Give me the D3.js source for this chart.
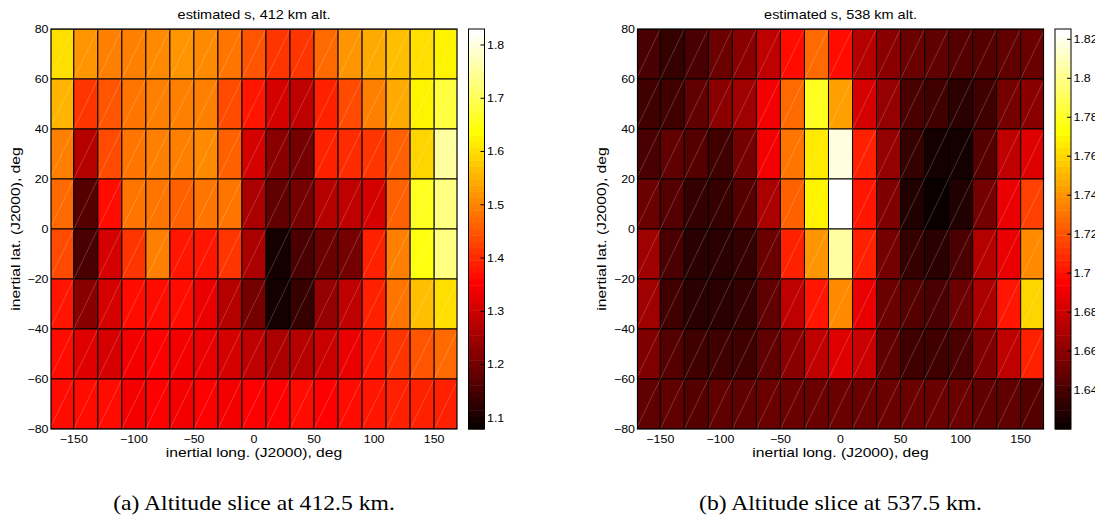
<!DOCTYPE html>
<html>
<head>
<meta charset="utf-8">
<script src="https://cdn.jsdelivr.net/npm/d3@7"></script>
<style>
  body { margin: 0; background: #fff; }
  svg { display: block; }
  text { font-family: "Liberation Sans", Arial, Helvetica, sans-serif; fill: #000; }
  .caption { font-family: "Liberation Serif", "Times New Roman", serif; }
</style>
</head>
<body>
<svg id="fig" width="1095" height="529"></svg>
<script>
// ---- data ---------------------------------------------------------------
// Longitude bin centres (deg), each bin 20 deg wide
const lonCenters = [-160, -140, -120, -100, -80, -60, -40, -20, 0, 20, 40, 60, 80, 100, 120, 140, 160];
// Latitude bin edges (deg), top to bottom
const latEdges = [80, 60, 40, 20, 0, -20, -40, -60, -80];

const xTicks = [-150, -100, -50, 0, 50, 100, 150];
const yTicks = [80, 60, 40, 20, 0, -20, -40, -60, -80];

// Estimated s, 412 km altitude slice (rows: lat bins top to bottom)
const s412 = [
  [1.598, 1.515, 1.493, 1.500, 1.508, 1.515, 1.508, 1.485, 1.448, 1.418, 1.418, 1.470, 1.515, 1.538, 1.564, 1.598, 1.628],
  [1.560, 1.418, 1.448, 1.485, 1.493, 1.500, 1.493, 1.440, 1.380, 1.313, 1.290, 1.388, 1.440, 1.493, 1.538, 1.620, 1.688],
  [1.493, 1.275, 1.440, 1.478, 1.493, 1.500, 1.508, 1.463, 1.313, 1.230, 1.204, 1.395, 1.403, 1.418, 1.463, 1.586, 1.748],
  [1.470, 1.170, 1.369, 1.485, 1.485, 1.463, 1.485, 1.478, 1.256, 1.178, 1.204, 1.275, 1.290, 1.313, 1.463, 1.665, 1.736],
  [1.440, 1.151, 1.313, 1.418, 1.493, 1.380, 1.380, 1.410, 1.256, 1.091, 1.151, 1.185, 1.204, 1.395, 1.493, 1.643, 1.725],
  [1.380, 1.223, 1.313, 1.369, 1.369, 1.361, 1.335, 1.275, 1.208, 1.091, 1.133, 1.238, 1.290, 1.395, 1.478, 1.564, 1.598],
  [1.369, 1.320, 1.313, 1.343, 1.350, 1.343, 1.335, 1.313, 1.279, 1.256, 1.268, 1.298, 1.335, 1.380, 1.418, 1.448, 1.470],
  [1.369, 1.361, 1.361, 1.343, 1.350, 1.343, 1.350, 1.343, 1.358, 1.350, 1.369, 1.350, 1.369, 1.380, 1.388, 1.395, 1.395]
];

// Estimated s, 538 km altitude slice
const s538 = [
  [1.642, 1.634, 1.642, 1.649, 1.659, 1.675, 1.697, 1.729, 1.697, 1.673, 1.661, 1.651, 1.647, 1.645, 1.645, 1.647, 1.649],
  [1.637, 1.639, 1.647, 1.659, 1.668, 1.692, 1.729, 1.780, 1.745, 1.684, 1.663, 1.642, 1.637, 1.632, 1.637, 1.654, 1.661],
  [1.642, 1.647, 1.645, 1.639, 1.654, 1.692, 1.731, 1.765, 1.816, 1.704, 1.663, 1.634, 1.625, 1.625, 1.645, 1.675, 1.686],
  [1.651, 1.645, 1.634, 1.634, 1.645, 1.671, 1.725, 1.770, 1.825, 1.702, 1.657, 1.627, 1.623, 1.627, 1.654, 1.688, 1.716],
  [1.668, 1.642, 1.632, 1.630, 1.634, 1.651, 1.706, 1.740, 1.805, 1.706, 1.654, 1.634, 1.630, 1.642, 1.673, 1.690, 1.737],
  [1.665, 1.639, 1.632, 1.630, 1.634, 1.647, 1.677, 1.702, 1.737, 1.690, 1.651, 1.645, 1.642, 1.651, 1.671, 1.702, 1.758],
  [1.657, 1.645, 1.639, 1.637, 1.639, 1.647, 1.661, 1.677, 1.686, 1.680, 1.647, 1.639, 1.637, 1.642, 1.657, 1.675, 1.704],
  [1.647, 1.647, 1.645, 1.647, 1.647, 1.649, 1.651, 1.649, 1.651, 1.649, 1.651, 1.651, 1.651, 1.649, 1.647, 1.647, 1.645]
];

const cbarDomain412 = [1.079, 1.83];
const cbarDomain538 = [1.62, 1.8253];
const cbarTicks412 = [1.1, 1.2, 1.3, 1.4, 1.5, 1.6, 1.7, 1.8];
const cbarTicks538 = [1.64, 1.66, 1.68, 1.7, 1.72, 1.74, 1.76, 1.78, 1.8, 1.82];

const titles = ["estimated s, 412 km alt.", "estimated s, 538 km alt."];
const captions = ["(a) Altitude slice at 412.5 km.", "(b) Altitude slice at 537.5 km."];
const xLabel = "inertial long. (J2000), deg";
const yLabel = "inertial lat. (J2000), deg";

// ---- drawing ------------------------------------------------------------
const svg = d3.select("#fig");
svg.append("rect").attr("width", 1095).attr("height", 529).attr("fill", "#fff");

const SX = 1.15; // horizontal stretch of the lettering
const lonDomain = [-169, 169];
const binHalf = 10;
const N_COLORS = 64;

// MATLAB-style "hot" colormap with 64 discrete levels
function hotLevel(k) { // k = 1..64
  const r = Math.min(1, k / 24);
  const g = Math.min(1, Math.max(0, (k - 24) / 24));
  const b = Math.min(1, Math.max(0, (k - 48) / 16));
  return d3.rgb(Math.round(r * 255), Math.round(g * 255), Math.round(b * 255)).formatHex();
}
function hotScale(domain) {
  const q = d3.scaleQuantize().domain(domain).range(d3.range(1, N_COLORS + 1));
  return v => hotLevel(q(Math.max(domain[0], Math.min(domain[1], v))));
}

function label(g, x, y, str, opts = {}) {
  const t = g.append("text")
    .attr("transform", `translate(${x},${y})` + (opts.rotate ? ` rotate(${opts.rotate})` : "") + ` scale(${opts.sx ?? SX},1)`)
    .attr("font-size", opts.size ?? 11)
    .attr("text-anchor", opts.anchor ?? "middle")
    .text(str);
  if (opts.cls) t.attr("class", opts.cls);
  if (opts.dy) t.attr("dy", opts.dy);
  return t;
}

const fmtMinus = v => String(v).replace("-", "\u2212");

function panel(idx, left, data, cDomain, cTicks) {
  const top = 29, W = 406, H = 400;
  const g = svg.append("g");
  const x = d3.scaleLinear().domain(lonDomain).range([left, left + W]);
  const y = d3.scaleLinear().domain([-80, 80]).range([top + H, top]);
  const color = hotScale(cDomain);

  const clipId = "clip" + idx;
  svg.append("clipPath").attr("id", clipId)
    .append("rect").attr("x", left).attr("y", top).attr("width", W).attr("height", H);

  const cells = [];
  data.forEach((row, r) => row.forEach((v, c) => cells.push({
    lon: lonCenters[c], latHi: latEdges[r], latLo: latEdges[r + 1], v
  })));

  const grid = g.append("g").attr("clip-path", `url(#${clipId})`);
  grid.selectAll("rect.cell").data(cells).join("rect")
    .attr("class", "cell")
    .attr("x", d => x(d.lon - binHalf))
    .attr("y", d => y(d.latHi))
    .attr("width", d => x(d.lon + binHalf) - x(d.lon - binHalf))
    .attr("height", d => y(d.latLo) - y(d.latHi))
    .attr("fill", d => color(d.v))
    .attr("stroke", "#000")
    .attr("stroke-width", 1);
  // faint seam along each cell's diagonal (quad split into two triangles)
  grid.selectAll("line.seam").data(cells).join("line")
    .attr("class", "seam")
    .attr("x1", d => x(d.lon - binHalf)).attr("y1", d => y(d.latLo))
    .attr("x2", d => x(d.lon + binHalf)).attr("y2", d => y(d.latHi))
    .attr("stroke", "#fff").attr("stroke-opacity", 0.32).attr("stroke-width", 0.6);

  g.append("rect").attr("x", left).attr("y", top).attr("width", W).attr("height", H)
    .attr("fill", "none").attr("stroke", "#000").attr("stroke-width", 1.2);

  // tick labels
  xTicks.forEach(t => label(g, x(t), 443, fmtMinus(t), { size: 10.8 }));
  yTicks.forEach(t => label(g, left - 2.5, y(t), fmtMinus(t), { size: 10.8, anchor: "end", dy: "0.36em" }));

  // title and axis labels
  label(g, left + W / 2, 19, titles[idx], { size: 12.6 });
  label(g, left + W / 2, 457, xLabel, { size: 13.6 });
  label(g, left - 31.5, top + H / 2, yLabel, { size: 13.6, rotate: -90 });

  // colour bar
  const cbX = left + 417.5, cbW = 16;
  const cy = d3.scaleLinear().domain(cDomain).range([top + H, top]);
  const levels = d3.range(N_COLORS);
  const step = (cDomain[1] - cDomain[0]) / N_COLORS;
  g.append("g").selectAll("rect").data(levels).join("rect")
    .attr("x", cbX).attr("width", cbW)
    .attr("y", k => cy(cDomain[0] + (k + 1) * step))
    .attr("height", k => cy(cDomain[0] + k * step) - cy(cDomain[0] + (k + 1) * step) + 0.5)
    .attr("fill", k => hotLevel(k + 1));
  g.append("rect").attr("x", cbX).attr("y", top).attr("width", cbW).attr("height", H)
    .attr("fill", "none").attr("stroke", "#000").attr("stroke-width", 1);
  cTicks.forEach(t => {
    g.append("line").attr("x1", cbX + cbW - 4).attr("x2", cbX + cbW)
      .attr("y1", cy(t)).attr("y2", cy(t)).attr("stroke", "#000").attr("stroke-width", 1);
    label(g, cbX + cbW + 2.5, cy(t), String(t), { size: 10.8, anchor: "start", dy: "0.36em" });
  });

  // sub-figure caption
  label(g, left + W / 2, 510, captions[idx], { size: 21.5, cls: "caption", sx: 1.1 });
}

panel(0, 51, s412, cbarDomain412, cbarTicks412);
panel(1, 637.5, s538, cbarDomain538, cbarTicks538);
</script>
</body>
</html>
